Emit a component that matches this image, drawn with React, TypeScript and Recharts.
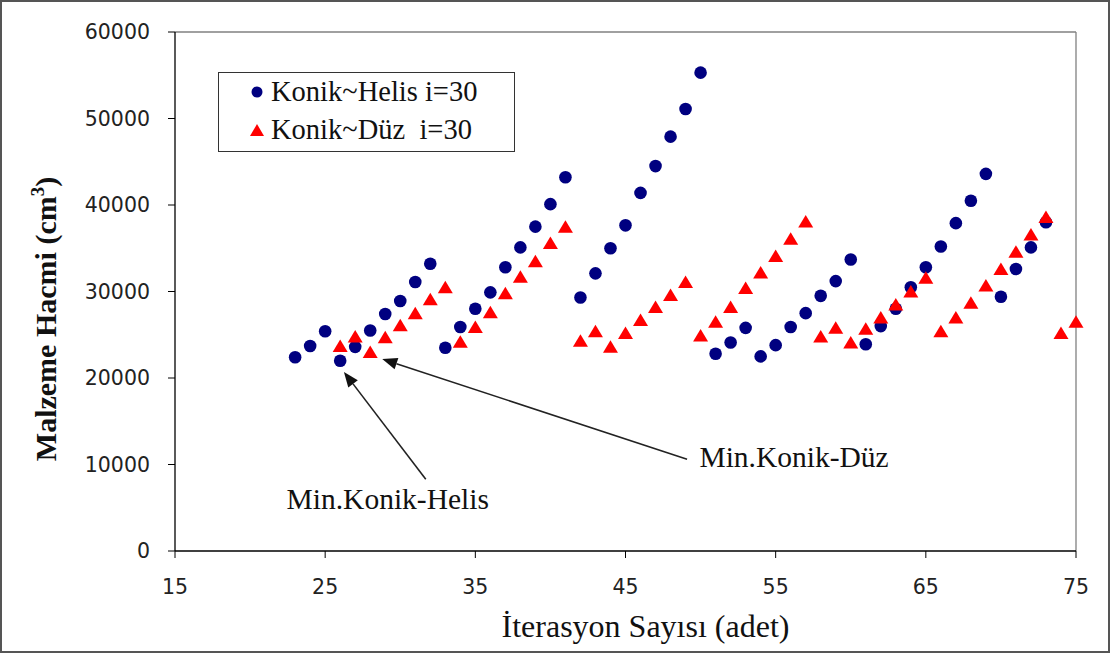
import { ScatterChart, Scatter, XAxis, YAxis, ReferenceLine, Label } from "recharts";

// iteration numbers and material volumes (cm3)
const helisIter = [
  23, 24, 25, 26, 27, 28, 29, 30, 31, 32, 33, 34, 35, 36, 37, 38, 39, 40, 41, 42,
  43, 44, 45, 46, 47, 48, 49, 50, 51, 52, 53, 54, 55, 56, 57, 58, 59, 60, 61, 62,
  63, 64, 65, 66, 67, 68, 69, 70, 71, 72, 73,
];
const helisVol = [
  22400, 23700, 25400, 22000, 23600, 25500, 27400, 28900, 31100, 33200, 23500,
  25900, 28000, 29900, 32800, 35100, 37500, 40100, 43200, 29300, 32100, 35000,
  37650, 41400, 44500, 47900, 51100, 55300, 22800, 24100, 25800, 22500, 23800,
  25900, 27500, 29500, 31200, 33700, 23900, 26000, 28000, 30500, 32800, 35200,
  37900, 40500, 43600, 29400, 32600, 35100, 38000,
];

const duzIter = [
  26, 27, 28, 29, 30, 31, 32, 33, 34, 35, 36, 37, 38, 39, 40, 41, 42, 43, 44, 45,
  46, 47, 48, 49, 50, 51, 52, 53, 54, 55, 56, 57, 58, 59, 60, 61, 62, 63, 64, 65,
  66, 67, 68, 69, 70, 71, 72, 73, 74, 75,
];
const duzVol = [
  23700, 24800, 23000, 24700, 26100, 27500, 29100, 30500, 24200, 25900, 27600,
  29800, 31700, 33500, 35600, 37500, 24300, 25400, 23600, 25200, 26700, 28200,
  29600, 31100, 24900, 26500, 28200, 30400, 32200, 34100, 36100, 38100, 24800,
  25800, 24100, 25700, 27000, 28500, 30000, 31600, 25400, 27000, 28700, 30700,
  32600, 34600, 36600, 38600, 25200, 26500,
];

const xTicks = [15, 25, 35, 45, 55, 65, 75];
const yTicks = [0, 10000, 20000, 30000, 40000, 50000, 60000];

// arrows: from label to the minimum point
const notes = [
  { text: "Min.Konik-Helis", from: { x: 31.7, y: 8300 }, to: { x: 26.25, y: 20700 }, dx: -38, dy: 30 },
  { text: "Min.Konik-Düz", from: { x: 49.1, y: 10600 }, to: { x: 28.8, y: 22200 }, dx: 107, dy: 8 },
];

const helis = helisIter.map((x, i) => ({ x, y: helisVol[i] }));
const duz = duzIter.map((x, i) => ({ x, y: duzVol[i] }));

const SERIF = "'Liberation Serif', 'Times New Roman', serif";
const SANS = "'DejaVu Sans', Verdana, sans-serif";
const BLUE = "#000080";
const RED = "#FF0000";

const Circle = (p: any) => <circle cx={p.cx} cy={p.cy} r={6.3} fill={BLUE} />;
const Tri = (p: any) => (
  <polygon
    points={`${p.cx},${p.cy - 6.5} ${p.cx - 7.5},${p.cy + 6} ${p.cx + 7.5},${p.cy + 6}`}
    fill={RED}
  />
);

const arrowShape = (note: (typeof notes)[number]) => (p: any) => {
  const { x1, y1, x2, y2 } = p;
  const ang = Math.atan2(y2 - y1, x2 - x1);
  const len = 15;
  const w = 6;
  const bx = x2 - len * Math.cos(ang);
  const by = y2 - len * Math.sin(ang);
  const nx = -Math.sin(ang) * w;
  const ny = Math.cos(ang) * w;
  return (
    <g>
      <line x1={x1} y1={y1} x2={bx} y2={by} stroke="#222" strokeWidth={1.6} />
      <polygon points={`${x2},${y2} ${bx + nx},${by + ny} ${bx - nx},${by - ny}`} fill="#111" />
      <text
        x={x1 + note.dx}
        y={y1 + note.dy}
        textAnchor="middle"
        fontFamily={SERIF}
        fontSize={29.5}
        fill="#111"
      >
        {note.text}
      </text>
    </g>
  );
};

export default function App() {
  return (
    <div style={{ position: "fixed", left: 0, top: 0, width: 1110, height: 653, background: "#fff" }}>
      <ScatterChart width={1110} height={653} margin={{ top: 32, right: 34, bottom: 0, left: 0 }}>
        <XAxis
          type="number"
          dataKey="x"
          domain={[15, 75]}
          ticks={xTicks}
          height={102}
          tickSize={7}
          tickMargin={21}
          axisLine={{ stroke: "#000", strokeWidth: 1.3 }}
          tickLine={{ stroke: "#000" }}
          tick={{ fill: "#222", fontSize: 20.5, fontFamily: SANS }}
        >
          <Label
            content={({ viewBox }: any) => (
              <text
                x={viewBox.x + viewBox.width / 2 + 20}
                y={637}
                textAnchor="middle"
                fontFamily={SERIF}
                fontSize={32}
                fill="#111"
              >
                İterasyon Sayısı (adet)
              </text>
            )}
          />
        </XAxis>
        <YAxis
          type="number"
          dataKey="y"
          domain={[0, 60000]}
          ticks={yTicks}
          width={175}
          tickSize={7}
          tickMargin={18}
          axisLine={{ stroke: "#000", strokeWidth: 1.3 }}
          tickLine={{ stroke: "#000" }}
          tick={{ fill: "#222", fontSize: 20.5, fontFamily: SANS }}
        >
          <Label
            content={() => (
              <text
                x={0}
                y={0}
                transform="translate(56, 319) rotate(-90)"
                textAnchor="middle"
                fontFamily={SERIF}
                fontSize={30}
                fontWeight="bold"
                fill="#111"
              >
                Malzeme Hacmi (cm
                <tspan dy={-12} fontSize={19}>3</tspan>
                <tspan dy={12}>)</tspan>
              </text>
            )}
          />
        </YAxis>
        <ReferenceLine y={60000} stroke="#808080" strokeWidth={1.3} />
        <ReferenceLine x={75} stroke="#808080" strokeWidth={1.3} />
        <Scatter name="Konik~Helis i=30" data={helis} shape={Circle} isAnimationActive={false} />
        <Scatter name="Konik~Düz  i=30" data={duz} shape={Tri} isAnimationActive={false} />
        {notes.map((n) => (
          <ReferenceLine
            key={n.text}
            segment={[n.from, n.to]}
            shape={arrowShape(n)}
          />
        ))}
      </ScatterChart>
      <div
        style={{
          position: "absolute",
          left: 218,
          top: 72,
          width: 297,
          height: 80,
          boxSizing: "border-box",
          border: "1.5px solid #333",
          background: "#fff",
          fontFamily: SERIF,
          fontSize: 28.5,
          color: "#111",
          whiteSpace: "pre",
        }}
      >
        <div style={{ position: "absolute", left: 30, top: 3, display: "flex", alignItems: "center" }}>
          <svg width={16} height={16} style={{ marginRight: 6 }}>
            <circle cx={8} cy={8} r={5.5} fill={BLUE} />
          </svg>
          Konik~Helis i=30
        </div>
        <div style={{ position: "absolute", left: 30, top: 41, display: "flex", alignItems: "center" }}>
          <svg width={16} height={16} style={{ marginRight: 6 }}>
            <polygon points="8,2 1,14 15,14" fill={RED} />
          </svg>
          Konik~Düz  i=30
        </div>
      </div>
      <div
        style={{
          position: "absolute",
          inset: 0,
          border: "2px solid #555",
          pointerEvents: "none",
        }}
      />
    </div>
  );
}
